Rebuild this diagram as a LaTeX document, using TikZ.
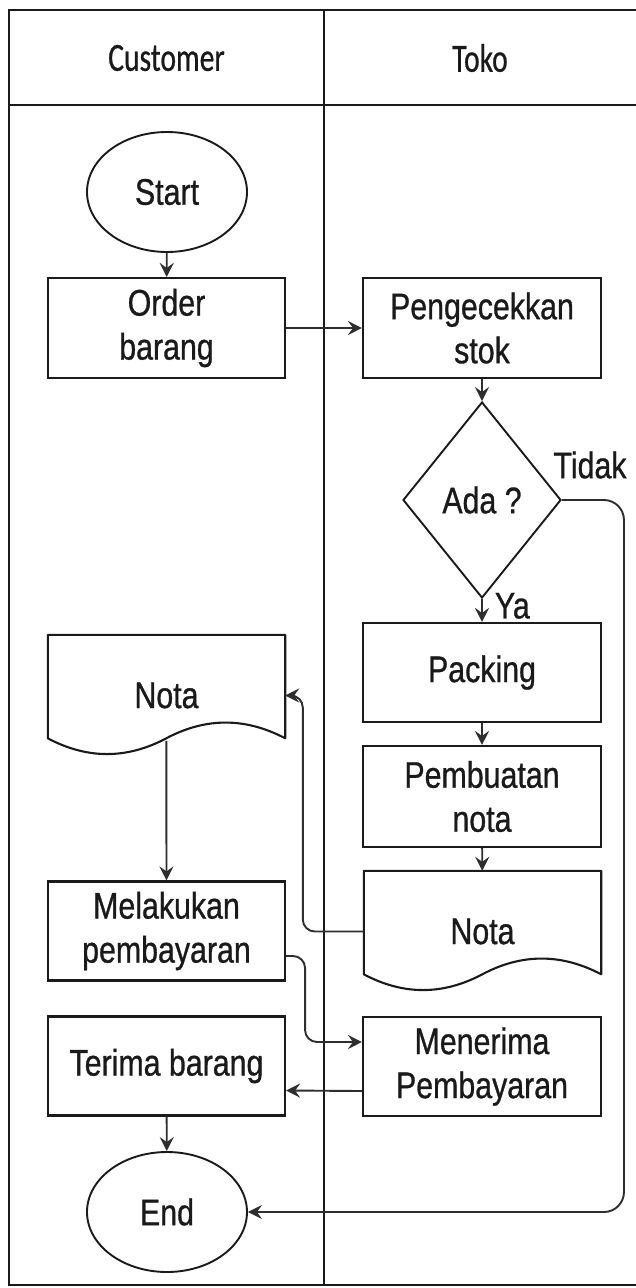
\documentclass[tikz,border=0pt]{standalone}
\usepackage{fontspec}
\setmainfont{Liberation Sans}[FakeStretch=0.82,FakeBold=0.8]
\newfontfamily\lanefont{Carlito}[FakeStretch=0.74,FakeBold=0.6]
\usetikzlibrary{shapes.geometric,arrows.meta,calc}
\definecolor{ink}{HTML}{1A1A1A}
\definecolor{wire}{HTML}{2E2E2E}

% outline of a document symbol (flat top, wavy bottom) around a named node
\newcommand\docoutline[1]{%
  \draw[ink, line width=2.1pt, line join=round]
    (#1.north west) -- (#1.north east) -- ($(#1.north east)+(0,103.5)$)
    .. controls ($(#1.north west)+(197.5,82.5)$) and ($(#1.north west)+(158,82.5)$)
    .. ($(#1.north west)+(118.5,103.5)$)
    .. controls ($(#1.north west)+(79,124.5)$) and ($(#1.north west)+(39.5,124.5)$)
    .. ($(#1.north west)+(0,103.5)$) -- cycle;}

\begin{document}
\begin{tikzpicture}[x=1pt,y=-1pt,
  every node/.style={font=\fontsize{37}{44}\selectfont, text=ink, inner sep=0pt, align=center},
  box/.style={draw=ink, line width=2.1pt, minimum width=237pt, minimum height=99pt},
  term/.style={ellipse, draw=ink, line width=1.9pt, minimum width=160pt, minimum height=120pt},
  decision/.style={diamond, draw=ink, line width=1.9pt, minimum width=158pt, minimum height=196pt},
  doc/.style={minimum width=237pt, minimum height=121pt},
  flow/.style={draw=wire, line width=1.9pt, -{Stealth[length=14pt,width=14pt,inset=5pt]}, rounded corners=12pt},
  lane/.style={draw=ink, line width=2.8pt},
  lanehead/.style={font=\lanefont\fontsize{40}{48}\selectfont},
  tag/.style={font=\fontsize{37}{44}\selectfont}
]
\useasboundingbox (0,0) rectangle (636,1288);

% swimlane frame
\draw[lane] (637,10) -- (9,10) -- (9,1285) -- (637,1285);
\draw[lane] (9,105) -- (637,105);
\draw[lane] (324,10) -- (324,1285);

\node[lanehead] (hc) at (166.5,58) {Customer};
\node[lanehead] (ht) at (480,58) {Toko};

% Customer lane
\node[term] (start) at (167,192) {Start};
\node[box, minimum height=100pt] (order) at (166.5,328) {Order\\barang};
\node[doc] (notaC) at (166.5,695.5) {Nota};
\docoutline{notaC}
\node[box] (bayar) at (166.5,931) {Melakukan\\pembayaran};
\node[box] (terima) at (166.5,1066) {Terima barang};
\node[term] (end) at (167,1212) {End};

% Toko lane
\node[box, minimum width=238pt, minimum height=100pt] (cek) at (482,328) {Pengecekkan\\stok};
\node[decision] (ada) at (482,500) {Ada ?};
\node[box, minimum width=238pt] (pack) at (482,672.5) {Packing};
\node[box, minimum width=238pt, minimum height=101pt] (buat) at (482,796.5) {Pembuatan\\nota};
\node[doc] (notaT) at (482.5,931.5) {Nota};
\docoutline{notaT}
\node[box, minimum width=238pt] (terimaP) at (482,1066.5) {Menerima\\Pembayaran};

% connectors
\draw[flow] (start) -- (order);
\draw[flow] (order) -- (cek);
\draw[flow] (cek) -- (ada);
\draw[flow] (ada) -- node[tag, pos=0.3, right=12pt] (ya) {Ya} (pack);
\draw[flow, rounded corners=20pt] (ada.east) -- ++(62,0) |- (end.east);
\node[tag] (tidak) at (590,465) {Tidak};
\draw[flow] (pack) -- (buat);
\draw[flow] (buat) -- (notaT);
\draw[flow] (notaT.west) -- ++(-61,0) |- (notaC.east);
\draw[flow] ($(notaC.north west)+(118.5,106)$) -- (bayar.north);
\draw[flow] ($(bayar.east)+(0,25)$) -- ++(19,0) |- ($(terimaP.west)+(0,-24.5)$);
\draw[flow] ($(terimaP.west)+(0,24.5)$) -- ($(terima.east)+(0,24.5)$);
\draw[flow] (terima) -- (end);
\end{tikzpicture}
\end{document}
